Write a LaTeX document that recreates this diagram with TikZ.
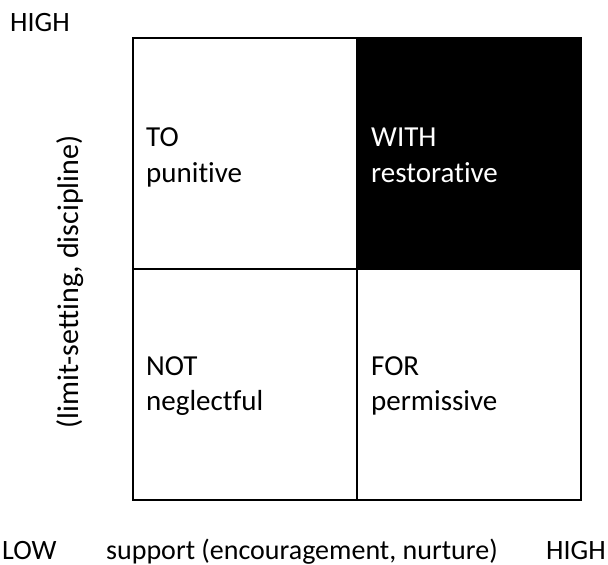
\documentclass[tikz,border=0pt]{standalone}
\usepackage{fontspec}
\setmainfont[Ligatures={NoCommon}]{Carlito}
\begin{document}
\begin{tikzpicture}[x=1pt,y=-1pt,
  lbl/.style={inner sep=0pt,font=\fontsize{28}{36}\selectfont},
  qlbl/.style={inner sep=0pt,anchor=base west,font=\fontsize{29}{36}\selectfont},
  cell/.style={draw=black,line width=2pt,minimum width=224pt,minimum height=231pt,inner sep=0pt,anchor=north west},
  darkcell/.style={cell,fill=black}]
\useasboundingbox (0,0) rectangle (608,565);
% cells
\node[cell] (tl) at (132,37) {};
\node[darkcell] (tr) at (356,37) {};
\node[cell] (bl) at (132,268) {};
\node[cell] (br) at (356,268) {};
% quadrant texts
\node[qlbl] (to) at (146,146) {TO};
\node[qlbl] (pun) at (146,182) {punitive};
\node[qlbl,text=white] (with) at (371,146) {WITH};
\node[qlbl,text=white] (res) at (371,182) {restorative};
\node[qlbl] (not) at (146,375) {NOT};
\node[qlbl] (neg) at (146,410) {neglectful};
\node[qlbl] (for) at (371,375) {FOR};
\node[qlbl] (perm) at (371,410) {permissive};
% axis labels
\node[lbl,anchor=base west] (hightop) at (10,31) {HIGH};
\node[lbl,rotate=90,font=\fontsize{30}{36}\selectfont] (yaxis) at (70,282) {(limit-setting, discipline)};
\node[lbl,anchor=base west] (low) at (2,559) {LOW};
\node[lbl,anchor=base west] (xaxis) at (106,559) {support (encouragement, nurture)};
\node[lbl,anchor=base east] (highbot) at (606,559) {HIGH};
\end{tikzpicture}
\end{document}
